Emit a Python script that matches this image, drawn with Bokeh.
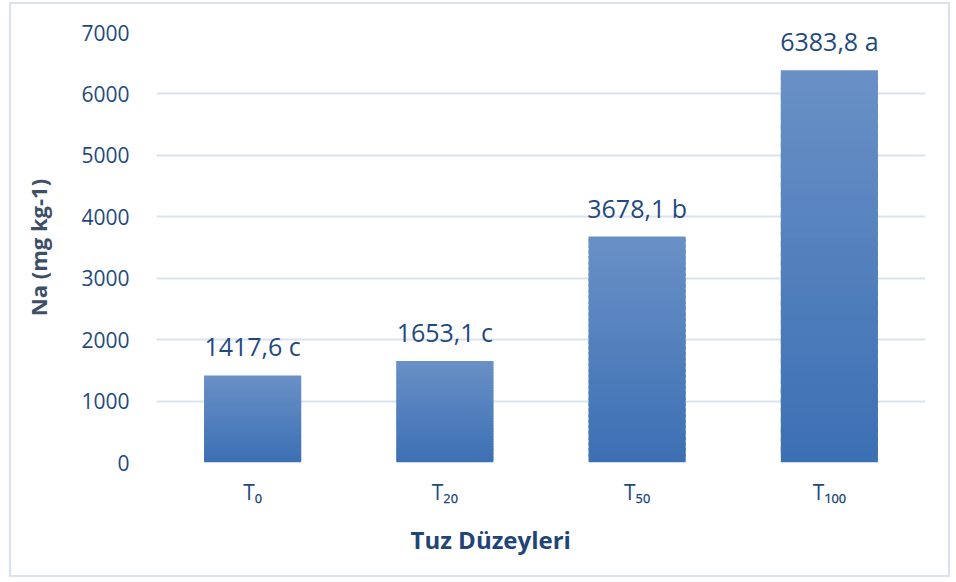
from bokeh.plotting import figure
from bokeh.models import Range1d, FixedTicker, Title, ColumnDataSource
from bokeh.embed import file_html
from bokeh.resources import INLINE
from bokeh.core.properties import value

# ---- data ----
categories = ["T₀", "T₂₀", "T₅₀", "T₁₀₀"]
na_values = [1417.6, 1653.1, 3678.1, 6383.8]
letters = ["c", "c", "b", "a"]
y_ticks = [0, 1000, 2000, 3000, 4000, 5000, 6000, 7000]

FONT = "Open Sans"
DARK = "#1F4A7E"

p = figure(
    x_range=categories,
    y_range=Range1d(0, 7000),
    width=941, height=575,
    output_backend="svg", toolbar_location=None,
    min_border_left=145, min_border_right=27,
    min_border_top=28, min_border_bottom=117,
)
p.margin = (2, 0, 0, 9)
p.styles = {"border": "2px solid #D8E2F1"}
p.outline_line_color = None
p.background_fill_color = "white"
p.border_fill_color = "white"

# gradient bars (overlapping slices of each bar, lighter towards the top)
steps = 40
top_rgb = (106, 145, 199)
bot_rgb = (60, 112, 180)
xs, bottoms, tops, colors = [], [], [], []
for cat, v in zip(categories, na_values):
    for k in range(steps):
        f0 = k / steps
        f1 = min((k + 1.6) / steps, 1.0)
        t = (k + 0.5) / steps
        r = int(bot_rgb[0] + (top_rgb[0] - bot_rgb[0]) * t)
        g = int(bot_rgb[1] + (top_rgb[1] - bot_rgb[1]) * t)
        b = int(bot_rgb[2] + (top_rgb[2] - bot_rgb[2]) * t)
        xs.append(cat)
        bottoms.append(v * f0)
        tops.append(v * f1)
        colors.append("#%02x%02x%02x" % (r, g, b))
src = ColumnDataSource(dict(x=xs, bottom=bottoms, top=tops, color=colors))
p.vbar(x="x", bottom="bottom", top="top", width=0.505, source=src,
       fill_color="color", line_color=None)

# data labels
lab_src = ColumnDataSource(dict(
    x=categories, y=na_values,
    t=[("%.1f" % v).replace(".", ",") + " " + l for v, l in zip(na_values, letters)],
))
p.text(x="x", y="y", text="t", source=lab_src, text_align="center",
       text_baseline="alphabetic", y_offset=-29, text_font=value(FONT),
       text_font_size="25px", text_color=DARK)

# grid
p.xgrid.grid_line_color = None
p.ygrid.grid_line_color = "#D9E3F2"
p.ygrid.grid_line_width = 2
p.ygrid.ticker = FixedTicker(ticks=y_ticks)

# y axis
p.yaxis.ticker = FixedTicker(ticks=y_ticks)
p.yaxis.axis_line_color = None
p.yaxis.major_tick_line_color = None
p.yaxis.minor_tick_line_color = None
p.yaxis.major_label_standoff = 21
p.yaxis.major_label_text_font = FONT
p.yaxis.major_label_text_font_size = "21px"
p.yaxis.major_label_text_color = DARK
p.yaxis.axis_label = "Na (mg kg-1)"
p.yaxis.axis_label_text_font = FONT
p.yaxis.axis_label_text_font_style = "bold"
p.yaxis.axis_label_text_font_size = "22px"
p.yaxis.axis_label_text_color = "#3E5068"
p.yaxis.axis_label_standoff = 25

# x axis
p.xaxis.axis_line_color = None
p.xaxis.major_tick_line_color = None
p.xaxis.minor_tick_line_color = None
p.xaxis.major_label_standoff = 9
p.xaxis.major_label_text_font = FONT
p.xaxis.major_label_text_font_size = "21px"
p.xaxis.major_label_text_color = DARK

# x axis title (centred on the whole chart, as in the original)
p.add_layout(Title(text="Tuz Düzeyleri", align="left", offset=254,
                   text_font=FONT, text_font_style="bold",
                   text_font_size="24px", text_color="#1F4576",
                   standoff=25), "below")

open("out.html", "w").write(file_html(p, INLINE))
